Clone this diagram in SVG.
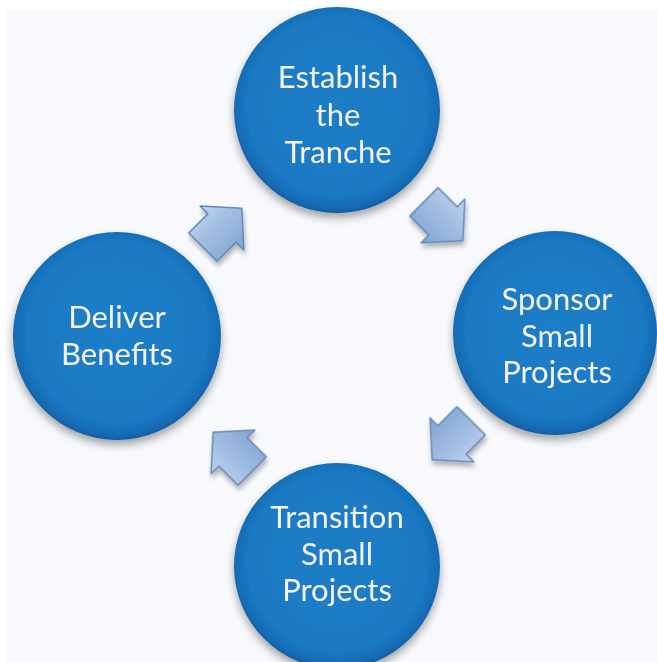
<svg xmlns="http://www.w3.org/2000/svg" width="657" height="662" viewBox="0 0 657 662">
  <defs>
    <radialGradient id="discFill" cx="50%" cy="48%" r="52%">
      <stop offset="0" stop-color="#1d7ec8"/>
      <stop offset="0.84" stop-color="#1a79c3"/>
      <stop offset="0.95" stop-color="#156bb4"/>
      <stop offset="1" stop-color="#115ca2"/>
    </radialGradient>
    <linearGradient id="arrowFill" x1="0" y1="0" x2="0" y2="1">
      <stop offset="0" stop-color="#c0d4ee"/>
      <stop offset="0.45" stop-color="#a0bce2"/>
      <stop offset="1" stop-color="#82a4d0"/>
    </linearGradient>
    <filter id="discShadow" x="-20%" y="-20%" width="140%" height="145%">
      <feGaussianBlur in="SourceAlpha" stdDeviation="4"/>
      <feOffset dx="0" dy="5" result="b"/>
      <feComponentTransfer><feFuncA type="linear" slope="0.35"/></feComponentTransfer>
      <feMerge><feMergeNode/><feMergeNode in="SourceGraphic"/></feMerge>
    </filter>
    <filter id="arrowShadow" x="-30%" y="-30%" width="160%" height="160%">
      <feGaussianBlur in="SourceAlpha" stdDeviation="2.5"/>
      <feOffset dx="1" dy="4" result="b"/>
      <feComponentTransfer><feFuncA type="linear" slope="0.3"/></feComponentTransfer>
      <feMerge><feMergeNode/><feMergeNode in="SourceGraphic"/></feMerge>
    </filter>
    <!-- block arrow pointing along +x, centred on the origin -->
    <path id="blockArrow" d="M -27 -20 L 0 -20 L 0 -31 L 28 0 L 0 31 L 0 20 L -27 20 Z"/>
    <style>
      .disc { fill: url(#discFill); filter: url(#discShadow); }
      .label { font-family: Lato, "Open Sans", sans-serif; font-size: 31px; fill: #f6f2f7; text-anchor: middle; }
      .arrow use { fill: url(#arrowFill); stroke: #6488ba; stroke-width: 1.5; stroke-linejoin: round; }
    </style>
  </defs>

  <rect x="0" y="0" width="657" height="662" fill="#ffffff"/>
  <rect x="6" y="10" width="651" height="652" fill="#f7f9fc"/>

  <g id="connectors">
    <g class="arrow" filter="url(#arrowShadow)">
      <use href="#blockArrow" transform="translate(222 228) rotate(-45)"/>
      <use href="#blockArrow" transform="translate(443 221) rotate(45)"/>
      <use href="#blockArrow" transform="translate(452 440) rotate(135)"/>
      <use href="#blockArrow" transform="translate(233 452) rotate(-135)"/>
    </g>
  </g>

  <g id="establish">
    <circle class="disc" cx="337" cy="110" r="103"/>
    <text class="label" x="338" y="88">Establish</text>
    <text class="label" x="338" y="126">the</text>
    <text class="label" x="338" y="163">Tranche</text>
  </g>

  <g id="sponsor">
    <circle class="disc" cx="555" cy="333" r="102"/>
    <text class="label" x="557" y="310">Sponsor</text>
    <text class="label" x="557" y="347">Small</text>
    <text class="label" x="557" y="383">Projects</text>
  </g>

  <g id="transition">
    <circle class="disc" cx="337" cy="566" r="103"/>
    <text class="label" x="337" y="528">Transition</text>
    <text class="label" x="337" y="565">Small</text>
    <text class="label" x="337" y="601">Projects</text>
  </g>

  <g id="deliver">
    <circle class="disc" cx="117" cy="336" r="104"/>
    <text class="label" x="117" y="328">Deliver</text>
    <text class="label" x="117" y="365">Benefits</text>
  </g>
</svg>
